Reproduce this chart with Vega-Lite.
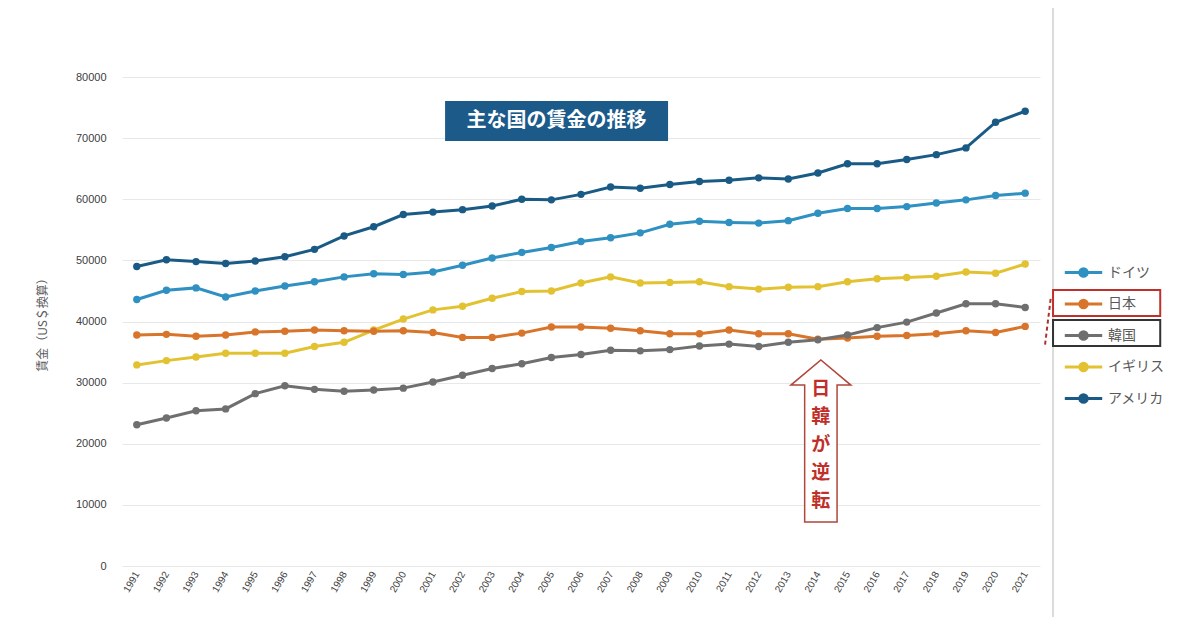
{
  "$schema": "https://vega.github.io/schema/vega-lite/v6.json",
  "autosize": "none",
  "width": 918,
  "height": 489,
  "padding": {"left": 122, "top": 77, "right": 160, "bottom": 51},
  "background": "white",
  "config": {
    "view": {"stroke": null},
    "font": "Noto Sans CJK JP",
    "axis": {"labelFont": "Liberation Sans", "labelColor": "#404040", "titleColor": "#595959"},
    "axisX": {"labelOverlap": false}
  },
  "datasets": {
    "wages": [
      {"country":"アメリカ","year":1991,"wage":49000},{"country":"アメリカ","year":1992,"wage":50100},{"country":"アメリカ","year":1993,"wage":49800},{"country":"アメリカ","year":1994,"wage":49500},{"country":"アメリカ","year":1995,"wage":49900},{"country":"アメリカ","year":1996,"wage":50600},{"country":"アメリカ","year":1997,"wage":51800},{"country":"アメリカ","year":1998,"wage":54000},{"country":"アメリカ","year":1999,"wage":55500},{"country":"アメリカ","year":2000,"wage":57500},{"country":"アメリカ","year":2001,"wage":57900},{"country":"アメリカ","year":2002,"wage":58300},{"country":"アメリカ","year":2003,"wage":58900},{"country":"アメリカ","year":2004,"wage":60000},{"country":"アメリカ","year":2005,"wage":59900},{"country":"アメリカ","year":2006,"wage":60800},{"country":"アメリカ","year":2007,"wage":62000},{"country":"アメリカ","year":2008,"wage":61800},{"country":"アメリカ","year":2009,"wage":62400},{"country":"アメリカ","year":2010,"wage":62900},{"country":"アメリカ","year":2011,"wage":63100},{"country":"アメリカ","year":2012,"wage":63500},{"country":"アメリカ","year":2013,"wage":63300},{"country":"アメリカ","year":2014,"wage":64300},{"country":"アメリカ","year":2015,"wage":65800},{"country":"アメリカ","year":2016,"wage":65800},{"country":"アメリカ","year":2017,"wage":66500},{"country":"アメリカ","year":2018,"wage":67300},{"country":"アメリカ","year":2019,"wage":68400},{"country":"アメリカ","year":2020,"wage":72600},{"country":"アメリカ","year":2021,"wage":74400},
      {"country":"ドイツ","year":1991,"wage":43600},{"country":"ドイツ","year":1992,"wage":45100},{"country":"ドイツ","year":1993,"wage":45500},{"country":"ドイツ","year":1994,"wage":44000},{"country":"ドイツ","year":1995,"wage":45000},{"country":"ドイツ","year":1996,"wage":45800},{"country":"ドイツ","year":1997,"wage":46500},{"country":"ドイツ","year":1998,"wage":47300},{"country":"ドイツ","year":1999,"wage":47800},{"country":"ドイツ","year":2000,"wage":47700},{"country":"ドイツ","year":2001,"wage":48100},{"country":"ドイツ","year":2002,"wage":49200},{"country":"ドイツ","year":2003,"wage":50400},{"country":"ドイツ","year":2004,"wage":51300},{"country":"ドイツ","year":2005,"wage":52100},{"country":"ドイツ","year":2006,"wage":53100},{"country":"ドイツ","year":2007,"wage":53700},{"country":"ドイツ","year":2008,"wage":54500},{"country":"ドイツ","year":2009,"wage":55900},{"country":"ドイツ","year":2010,"wage":56400},{"country":"ドイツ","year":2011,"wage":56200},{"country":"ドイツ","year":2012,"wage":56100},{"country":"ドイツ","year":2013,"wage":56500},{"country":"ドイツ","year":2014,"wage":57700},{"country":"ドイツ","year":2015,"wage":58500},{"country":"ドイツ","year":2016,"wage":58500},{"country":"ドイツ","year":2017,"wage":58800},{"country":"ドイツ","year":2018,"wage":59400},{"country":"ドイツ","year":2019,"wage":59900},{"country":"ドイツ","year":2020,"wage":60600},{"country":"ドイツ","year":2021,"wage":61000},
      {"country":"イギリス","year":1991,"wage":32900},{"country":"イギリス","year":1992,"wage":33600},{"country":"イギリス","year":1993,"wage":34200},{"country":"イギリス","year":1994,"wage":34800},{"country":"イギリス","year":1995,"wage":34800},{"country":"イギリス","year":1996,"wage":34800},{"country":"イギリス","year":1997,"wage":35900},{"country":"イギリス","year":1998,"wage":36600},{"country":"イギリス","year":1999,"wage":38600},{"country":"イギリス","year":2000,"wage":40400},{"country":"イギリス","year":2001,"wage":41900},{"country":"イギリス","year":2002,"wage":42500},{"country":"イギリス","year":2003,"wage":43800},{"country":"イギリス","year":2004,"wage":44900},{"country":"イギリス","year":2005,"wage":45000},{"country":"イギリス","year":2006,"wage":46300},{"country":"イギリス","year":2007,"wage":47300},{"country":"イギリス","year":2008,"wage":46300},{"country":"イギリス","year":2009,"wage":46400},{"country":"イギリス","year":2010,"wage":46500},{"country":"イギリス","year":2011,"wage":45700},{"country":"イギリス","year":2012,"wage":45300},{"country":"イギリス","year":2013,"wage":45600},{"country":"イギリス","year":2014,"wage":45700},{"country":"イギリス","year":2015,"wage":46500},{"country":"イギリス","year":2016,"wage":47000},{"country":"イギリス","year":2017,"wage":47200},{"country":"イギリス","year":2018,"wage":47400},{"country":"イギリス","year":2019,"wage":48100},{"country":"イギリス","year":2020,"wage":47900},{"country":"イギリス","year":2021,"wage":49400},
      {"country":"日本","year":1991,"wage":37800},{"country":"日本","year":1992,"wage":37900},{"country":"日本","year":1993,"wage":37600},{"country":"日本","year":1994,"wage":37800},{"country":"日本","year":1995,"wage":38300},{"country":"日本","year":1996,"wage":38400},{"country":"日本","year":1997,"wage":38600},{"country":"日本","year":1998,"wage":38500},{"country":"日本","year":1999,"wage":38400},{"country":"日本","year":2000,"wage":38500},{"country":"日本","year":2001,"wage":38200},{"country":"日本","year":2002,"wage":37400},{"country":"日本","year":2003,"wage":37400},{"country":"日本","year":2004,"wage":38100},{"country":"日本","year":2005,"wage":39100},{"country":"日本","year":2006,"wage":39100},{"country":"日本","year":2007,"wage":38900},{"country":"日本","year":2008,"wage":38500},{"country":"日本","year":2009,"wage":38000},{"country":"日本","year":2010,"wage":38000},{"country":"日本","year":2011,"wage":38600},{"country":"日本","year":2012,"wage":38000},{"country":"日本","year":2013,"wage":38000},{"country":"日本","year":2014,"wage":37100},{"country":"日本","year":2015,"wage":37300},{"country":"日本","year":2016,"wage":37600},{"country":"日本","year":2017,"wage":37700},{"country":"日本","year":2018,"wage":38000},{"country":"日本","year":2019,"wage":38500},{"country":"日本","year":2020,"wage":38200},{"country":"日本","year":2021,"wage":39200},
      {"country":"韓国","year":1991,"wage":23100},{"country":"韓国","year":1992,"wage":24200},{"country":"韓国","year":1993,"wage":25400},{"country":"韓国","year":1994,"wage":25700},{"country":"韓国","year":1995,"wage":28200},{"country":"韓国","year":1996,"wage":29500},{"country":"韓国","year":1997,"wage":28900},{"country":"韓国","year":1998,"wage":28600},{"country":"韓国","year":1999,"wage":28800},{"country":"韓国","year":2000,"wage":29100},{"country":"韓国","year":2001,"wage":30100},{"country":"韓国","year":2002,"wage":31200},{"country":"韓国","year":2003,"wage":32300},{"country":"韓国","year":2004,"wage":33100},{"country":"韓国","year":2005,"wage":34100},{"country":"韓国","year":2006,"wage":34600},{"country":"韓国","year":2007,"wage":35300},{"country":"韓国","year":2008,"wage":35200},{"country":"韓国","year":2009,"wage":35400},{"country":"韓国","year":2010,"wage":36000},{"country":"韓国","year":2011,"wage":36300},{"country":"韓国","year":2012,"wage":35900},{"country":"韓国","year":2013,"wage":36600},{"country":"韓国","year":2014,"wage":37000},{"country":"韓国","year":2015,"wage":37800},{"country":"韓国","year":2016,"wage":39000},{"country":"韓国","year":2017,"wage":39900},{"country":"韓国","year":2018,"wage":41400},{"country":"韓国","year":2019,"wage":42900},{"country":"韓国","year":2020,"wage":42900},{"country":"韓国","year":2021,"wage":42300}
    ],
    "title": [{"x1": 2001.41, "x2": 2008.94, "y1": 76070, "y2": 69530, "xm": 2005.17, "ym": 72800, "label": "主な国の賃金の推移"}],
    "arrow": [{"year": 2014.1, "value": 20450, "tyear": 2014.1, "tvalue": 28957, "label": ["日","韓","が","逆","転"]}],
    "boxes": [
      {"x1": 2021.94, "x2": 2025.56, "y1": 45150, "y2": 40900, "kind": "jp"},
      {"x1": 2021.94, "x2": 2025.56, "y1": 40250, "y2": 35990, "kind": "kr"}
    ],
    "pointer": [{"x1": 2021.86, "x2": 2021.66, "y1": 43700, "y2": 35800}],
    "frame": [{"x": 2021.94, "y1": 91280, "y2": -8340}]
  },
  "layer": [
    {
      "data": {"name": "wages"},
      "mark": {"type": "line", "strokeWidth": 3, "point": {"filled": true, "size": 55}},
      "encoding": {
        "x": {
          "field": "year", "type": "quantitative",
          "scale": {"domain": [1990.5, 2021.5], "nice": false, "zero": false},
          "axis": {
            "title": null, "values": [1991,1992,1993,1994,1995,1996,1997,1998,1999,2000,2001,2002,2003,2004,2005,2006,2007,2008,2009,2010,2011,2012,2013,2014,2015,2016,2017,2018,2019,2020,2021],
            "tickCount": 60,
            "format": "d", "labelAngle": -60, "labelOverlap": false, "grid": false, "ticks": false, "domain": false,
            "labelFontSize": 10, "labelPadding": 6, "labelColor": "#404040"
          }
        },
        "y": {
          "field": "wage", "type": "quantitative",
          "scale": {"domain": [0, 80000], "nice": false},
          "axis": {
            "title": "賃金（US＄換算）", "titleFont": "Noto Sans CJK JP", "titleFontSize": 12, "titleFontWeight": "normal",
            "values": [0,10000,20000,30000,40000,50000,60000,70000,80000], "format": "d",
            "ticks": false, "domain": false, "gridColor": "#e8e8e8", "gridWidth": 1,
            "labelFontSize": 11, "labelPadding": 16, "titlePadding": 26, "labelColor": "#404040"
          }
        },
        "color": {
          "field": "country", "type": "nominal",
          "scale": {"domain": ["ドイツ","日本","韓国","イギリス","アメリカ"], "range": ["#2f90c2","#d8752a","#6f6f6f","#e3c232","#1a5b86"]},
          "legend": {
            "title": null, "orient": "none", "legendX": 941, "legendY": 175,
            "symbolType": "M-1,0L1,0M-0.2,0A0.2,0.2 0 1,0 0.2,0A0.2,0.2 0 1,0 -0.2,0Z",
            "symbolSize": 1400, "symbolStrokeWidth": 3,
            "labelFont": "Noto Sans CJK JP", "labelFontSize": 14, "labelColor": "#595959",
            "rowPadding": 0.5, "labelOffset": 4
          }
        }
      }
    },
    {
      "data": {"name": "frame"},
      "mark": {"type": "rule", "color": "#dcdcdc", "strokeWidth": 2},
      "encoding": {
        "x": {"field": "x", "type": "quantitative"},
        "y": {"field": "y1", "type": "quantitative"},
        "y2": {"field": "y2"}
      }
    },
    {
      "data": {"name": "boxes"},
      "mark": {"type": "rect", "fill": null, "strokeWidth": 2},
      "encoding": {
        "x": {"field": "x1", "type": "quantitative"},
        "x2": {"field": "x2"},
        "y": {"field": "y1", "type": "quantitative"},
        "y2": {"field": "y2"},
        "stroke": {"field": "kind", "type": "nominal", "scale": {"domain": ["jp","kr"], "range": ["#c0302a","#333333"]}, "legend": null}
      }
    },
    {
      "data": {"name": "pointer"},
      "mark": {"type": "rule", "color": "#b03030", "strokeWidth": 2, "strokeDash": [4, 3]},
      "encoding": {
        "x": {"field": "x1", "type": "quantitative"},
        "x2": {"field": "x2"},
        "y": {"field": "y1", "type": "quantitative"},
        "y2": {"field": "y2"}
      }
    },
    {
      "data": {"name": "title"},
      "mark": {"type": "rect", "fill": "#1c5a8a"},
      "encoding": {
        "x": {"field": "x1", "type": "quantitative"},
        "x2": {"field": "x2"},
        "y": {"field": "y1", "type": "quantitative"},
        "y2": {"field": "y2"}
      }
    },
    {
      "data": {"name": "title"},
      "mark": {"type": "text", "color": "white", "fontSize": 20, "fontWeight": "bold", "font": "Noto Sans CJK JP", "align": "center", "baseline": "middle"},
      "encoding": {
        "x": {"field": "xm", "type": "quantitative"},
        "y": {"field": "ym", "type": "quantitative"},
        "text": {"field": "label"}
      }
    },
    {
      "data": {"name": "arrow"},
      "mark": {"type": "point", "shape": "M-0.2,1L-0.2,-0.69L-0.37,-0.69L0,-1L0.37,-0.69L0.2,-0.69L0.2,1Z", "size": 26244, "filled": false, "fill": "white", "fillOpacity": 1, "stroke": "#b0473a", "strokeWidth": 1.5, "opacity": 1},
      "encoding": {
        "x": {"field": "year", "type": "quantitative"},
        "y": {"field": "value", "type": "quantitative"}
      }
    },
    {
      "data": {"name": "arrow"},
      "mark": {"type": "text", "color": "#c0302a", "fontSize": 19, "fontWeight": "bold", "font": "Noto Sans CJK JP", "align": "center", "baseline": "middle", "lineHeight": 28},
      "encoding": {
        "x": {"field": "tyear", "type": "quantitative"},
        "y": {"field": "tvalue", "type": "quantitative"},
        "text": {"field": "label"}
      }
    }
  ]
}
